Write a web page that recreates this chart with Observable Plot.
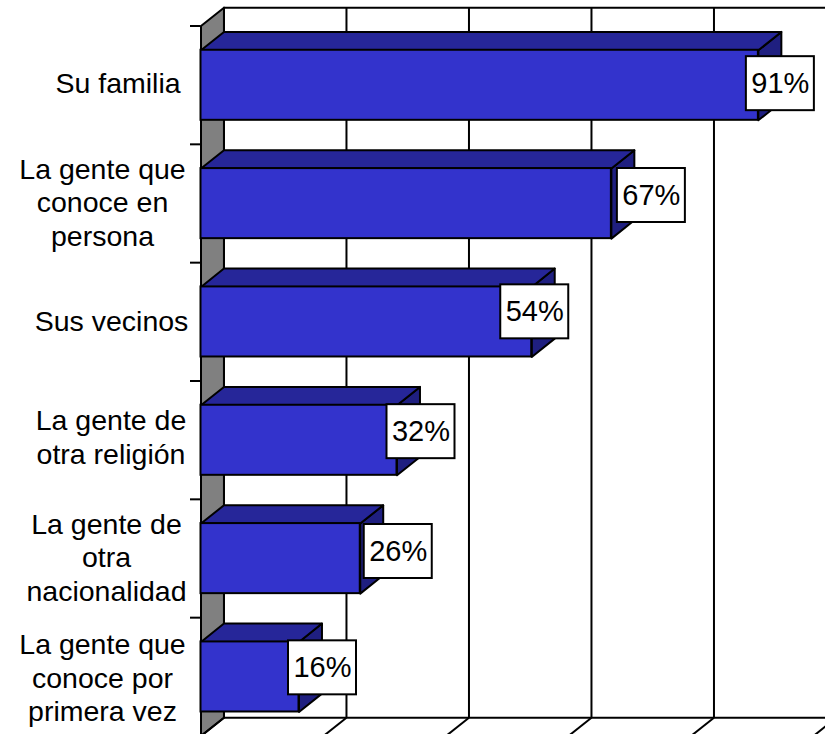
<!DOCTYPE html>
<html>
<head>
<meta charset="utf-8">
<style>html,body{margin:0;padding:0;background:#fff;overflow:hidden}svg{display:block}</style>
<script src="https://cdn.jsdelivr.net/npm/d3@7"></script>
<script src="https://cdn.jsdelivr.net/npm/@observablehq/plot@0.6"></script>
</head>
<body>
<div id="chart"></div>
<script>
const categories = ["Su familia","La gente que\nconoce en\npersona","Sus vecinos","La gente de\notra religión","La gente de\notra\nnacionalidad","La gente que\nconoce por\nprimera vez"];
const values = [91,67,54,32,26,16];
const valueLabels = ["91%","67%","54%","32%","26%","16%"];
const gridTicks = [0,20,40,60,80,100];
const slots = [0,1,2,3,4,5,6];

// label placement as it was hand-set in the original (pixels)
const catNudgeX = [-83,-98.5,-89.5,-90,-94.5,-98.5];
const catNudgeY = [-3,-2,-2,-4,-2,0];
const boxNudgeX = [22,40,3,24,38,23.5];
const boxNudgeY = [-1.5,-8,-10,-8.5,-7,-9];

// 3-D extrusion and bar extent in data units
const depthX = 3.75, depthY = 0.155, barTop = 0.205, barBottom = 0.797;
const C = {front:"#3333cc", top:"#262699", side:"#1f1f80", wall:"#808080"};
const font = "'Liberation Sans', Arial, sans-serif";

const rows = values.map((v,i)=>({v,i,t:i+barTop,b:i+barBottom,label:valueLabels[i],cat:categories[i]}));
const wall = [[0,0],[depthX,-depthY],[depthX,6-depthY],[0,6],[0,0]].map(([x,y])=>({x,y}));
const topFaces = rows.flatMap(r=>[[0,r.t],[depthX,r.t-depthY],[r.v+depthX,r.t-depthY],[r.v,r.t],[0,r.t]].map(([x,y])=>({x,y,z:r.i})));
const sideFaces = rows.flatMap(r=>[[r.v,r.t],[r.v+depthX,r.t-depthY],[r.v+depthX,r.b-depthY],[r.v,r.b],[r.v,r.t]].map(([x,y])=>({x,y,z:r.i})));

const sw = 2;
const plot = Plot.plot({
  width: 825, height: 734,
  marginLeft: 200, marginRight: 0, marginTop: 0, marginBottom: 0,
  style: {background:"#fff", fontFamily:font},
  x: {domain:[0,100], range:[200.5,813], axis:null},
  y: {domain:[0,6], range:[25.5,735.5], axis:null},
  marks: [
    Plot.line(wall,{x:"x",y:"y",fill:C.wall,stroke:"#000",strokeWidth:sw}),
    Plot.ruleX(gridTicks,{x:d=>d+depthX,y1:-depthY,y2:6-depthY,stroke:"#000",strokeWidth:sw,strokeOpacity:1}),
    Plot.ruleY([-depthY,6-depthY],{x1:depthX,x2:104,stroke:"#000",strokeWidth:sw,strokeOpacity:1}),
    Plot.link(gridTicks,{x1:d=>d+depthX,y1:6-depthY,x2:d=>d,y2:6,stroke:"#000",strokeWidth:sw}),
    Plot.axisY(slots,{anchor:"left",tickSize:10,tickFormat:()=>"",stroke:"#000",strokeWidth:sw,strokeOpacity:1,label:null}),
    Plot.ruleX([0],{y1:0,y2:6,stroke:"#000",strokeWidth:sw,strokeOpacity:1}),
    Plot.line(sideFaces,{x:"x",y:"y",z:"z",fill:C.side,stroke:"#000",strokeWidth:sw}),
    Plot.line(topFaces,{x:"x",y:"y",z:"z",fill:C.top,stroke:"#000",strokeWidth:sw}),
    Plot.rect(rows,{x1:0,x2:"v",y1:"t",y2:"b",fill:C.front,stroke:"#000",strokeWidth:sw}),
    ...rows.flatMap((r,i)=>[
      Plot.rect([r],{x1:"v",x2:"v",y1:d=>d.i+0.5,y2:d=>d.i+0.5,
        insetLeft:-34,insetRight:-34,insetTop:-27,insetBottom:-27,
        dx:boxNudgeX[i],dy:boxNudgeY[i],fill:"#fff",stroke:"#000",strokeWidth:sw}),
      Plot.text([r],{x:"v",y:d=>d.i+0.5,text:"label",dx:boxNudgeX[i],dy:boxNudgeY[i],
        fontSize:29,fontFamily:font,fill:"#000",textAnchor:"middle"}),
      Plot.text([r],{x:0,y:d=>d.i+0.5,text:"cat",dx:catNudgeX[i],dy:catNudgeY[i],
        fontSize:28.5,lineHeight:1.175,fontFamily:font,fill:"#000",textAnchor:"middle"})
    ])
  ]
});
document.getElementById("chart").appendChild(plot);
</script>
</body>
</html>
